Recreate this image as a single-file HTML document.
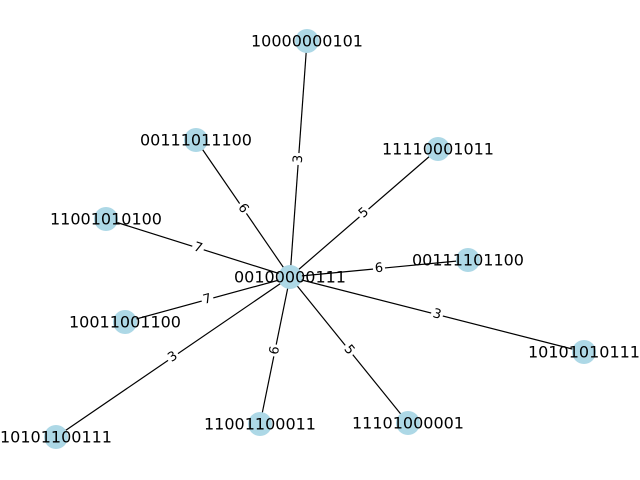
<!DOCTYPE html>
<html><head><meta charset="utf-8"><style>
html,body{margin:0;padding:0;background:#fff;width:640px;height:480px;overflow:hidden}
text{font-family:"DejaVu Sans","Liberation Sans",sans-serif}
.n{font-size:16px;fill:#000}
.e{font-size:13px;fill:#000}
</style></head><body>
<svg width="640" height="480" viewBox="0 0 640 480" xmlns="http://www.w3.org/2000/svg">
<g stroke="#000" stroke-width="1.2">
<line x1="290" y1="277" x2="307" y2="41"/>
<line x1="290" y1="277" x2="196" y2="140"/>
<line x1="290" y1="277" x2="438" y2="149"/>
<line x1="290" y1="277" x2="106" y2="219"/>
<line x1="290" y1="277" x2="468" y2="260"/>
<line x1="290" y1="277" x2="125" y2="322"/>
<line x1="290" y1="277" x2="584" y2="352"/>
<line x1="290" y1="277" x2="56" y2="437"/>
<line x1="290" y1="277" x2="260" y2="424"/>
<line x1="290" y1="277" x2="408" y2="423"/>
</g>
<g fill="#add8e6">
<circle cx="290" cy="277" r="12"/>
<circle cx="307" cy="41" r="12"/>
<circle cx="196" cy="140" r="12"/>
<circle cx="438" cy="149" r="12"/>
<circle cx="106" cy="219" r="12"/>
<circle cx="468" cy="260" r="12"/>
<circle cx="125" cy="322" r="12"/>
<circle cx="584" cy="352" r="12"/>
<circle cx="56" cy="437" r="12"/>
<circle cx="260" cy="424" r="12"/>
<circle cx="408" cy="423" r="12"/>
</g>
<g class="e" text-anchor="middle" dominant-baseline="central">
<g transform="translate(298.5,159) rotate(-85.9)"><rect x="-6" y="-8" width="12" height="16" fill="#fff"/><text x="0" y="0">3</text></g>
<g transform="translate(243,208.5) rotate(55.5)"><rect x="-6" y="-8" width="12" height="16" fill="#fff"/><text x="0" y="0">6</text></g>
<g transform="translate(364,213) rotate(-40.9)"><rect x="-6" y="-8" width="12" height="16" fill="#fff"/><text x="0" y="0">5</text></g>
<g transform="translate(198,248) rotate(17.5)"><rect x="-6" y="-8" width="12" height="16" fill="#fff"/><text x="0" y="0">7</text></g>
<g transform="translate(379,268.5) rotate(-5.5)"><rect x="-6" y="-8" width="12" height="16" fill="#fff"/><text x="0" y="0">6</text></g>
<g transform="translate(207.5,299.5) rotate(-15.3)"><rect x="-6" y="-8" width="12" height="16" fill="#fff"/><text x="0" y="0">7</text></g>
<g transform="translate(437,314.5) rotate(14.3)"><rect x="-6" y="-8" width="12" height="16" fill="#fff"/><text x="0" y="0">3</text></g>
<g transform="translate(173,357) rotate(-34.4)"><rect x="-6" y="-8" width="12" height="16" fill="#fff"/><text x="0" y="0">3</text></g>
<g transform="translate(275,350.5) rotate(-78.5)"><rect x="-6" y="-8" width="12" height="16" fill="#fff"/><text x="0" y="0">6</text></g>
<g transform="translate(349,350) rotate(51.1)"><rect x="-6" y="-8" width="12" height="16" fill="#fff"/><text x="0" y="0">5</text></g>
</g>
<g class="n" text-anchor="middle" dominant-baseline="central">
<text x="290" y="277">00100000111</text>
<text x="307" y="41">10000000101</text>
<text x="196" y="140">00111011100</text>
<text x="438" y="149">11110001011</text>
<text x="106" y="219">11001010100</text>
<text x="468" y="260">00111101100</text>
<text x="125" y="322">10011001100</text>
<text x="584" y="352">10101010111</text>
<text x="56" y="437">10101100111</text>
<text x="260" y="424">11001100011</text>
<text x="408" y="423">11101000001</text>
</g>
</svg>
</body></html>
